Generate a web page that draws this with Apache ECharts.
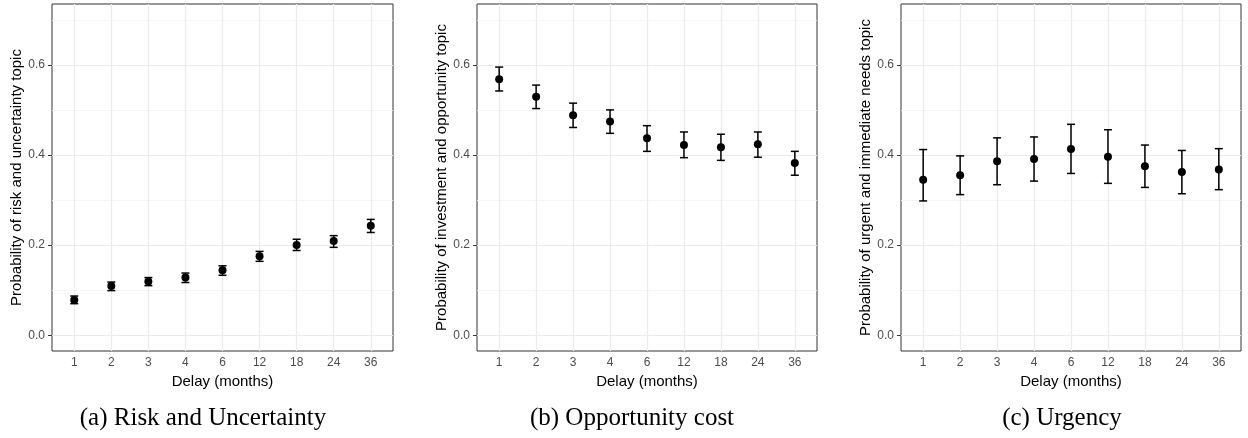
<!DOCTYPE html>
<html>
<head>
<meta charset="utf-8">
<script src="https://cdn.jsdelivr.net/npm/echarts@6/dist/echarts.min.js"></script>
<style>
html,body{margin:0;padding:0;background:#fff;}
#chart{width:1248px;height:438px;}
</style>
</head>
<body>
<div id="chart"></div>
<script>
// ---- data ----
const delays = ['1', '2', '3', '4', '6', '12', '18', '24', '36'];
const yTicks = [0, 0.2, 0.4, 0.6];
const yMinor = [0.1, 0.3, 0.5, 0.7];

const riskMean  = [0.078, 0.109, 0.119, 0.128, 0.144, 0.175, 0.200, 0.209, 0.243];
const riskLow   = [0.070, 0.099, 0.110, 0.117, 0.133, 0.164, 0.188, 0.195, 0.228];
const riskHigh  = [0.087, 0.118, 0.128, 0.138, 0.154, 0.186, 0.213, 0.221, 0.257];

const oppMean   = [0.568, 0.529, 0.488, 0.474, 0.437, 0.422, 0.417, 0.424, 0.382];
const oppLow    = [0.542, 0.503, 0.461, 0.448, 0.408, 0.394, 0.388, 0.395, 0.355];
const oppHigh   = [0.595, 0.555, 0.515, 0.500, 0.465, 0.451, 0.446, 0.451, 0.408];

const urgMean   = [0.345, 0.355, 0.386, 0.391, 0.413, 0.396, 0.375, 0.362, 0.368];
const urgLow    = [0.298, 0.312, 0.334, 0.342, 0.359, 0.337, 0.328, 0.314, 0.323];
const urgHigh   = [0.412, 0.398, 0.438, 0.440, 0.468, 0.456, 0.422, 0.410, 0.414];

const yTitles = [
  'Probability of risk and uncertainty topic',
  'Probability of investment and opportunity topic',
  'Probability of urgent and immediate needs topic'
];
const captions = ['(a) Risk and Uncertainty', '(b) Opportunity cost', '(c) Urgency'];

// ---- layout ----
const grids = [
  {left: 52, top: 4, width: 341, height: 347},
  {left: 477, top: 4, width: 340, height: 347},
  {left: 901, top: 4, width: 340, height: 347}
];
const captionX = [203, 632, 1062];
const panels = [
  [riskMean, riskLow, riskHigh],
  [oppMean, oppLow, oppHigh],
  [urgMean, urgLow, urgHigh]
];

const sans = 'Liberation Sans, Arial, sans-serif';
const option = {
  animation: false,
  backgroundColor: '#fff',
  grid: grids.map(g => Object.assign({show: true, borderColor: '#333333', borderWidth: 1, backgroundColor: 'transparent'}, g)),
  xAxis: grids.map((g, i) => ({
    gridIndex: i, type: 'value', min: 0.4, max: 9.6,
    name: 'Delay (months)', nameLocation: 'middle', nameGap: 21,
    nameTextStyle: {color: '#000', fontSize: 15, fontFamily: sans},
    axisLine: {show: false},
    axisTick: {show: true, length: 4, lineStyle: {color: '#333333', width: 1}, customValues: delays.map((d, k) => k + 1)},
    axisLabel: {color: '#4D4D4D', fontSize: 12, fontFamily: sans, margin: 6,
      customValues: delays.map((d, k) => k + 1),
      formatter: v => delays[Math.round(v) - 1]},
    splitLine: {show: false}
  })),
  yAxis: grids.map((g, i) => ({
    gridIndex: i, type: 'value', min: -0.035, max: 0.735,
    name: yTitles[i], nameLocation: 'middle', nameGap: 25,
    nameTextStyle: {color: '#000', fontSize: 15, fontFamily: sans},
    axisLine: {show: false},
    axisTick: {show: true, length: 4, lineStyle: {color: '#333333', width: 1}, customValues: yTicks},
    axisLabel: {color: '#4D4D4D', fontSize: 12, fontFamily: sans, margin: 7,
      customValues: yTicks, formatter: v => v.toFixed(1)},
    splitLine: {show: false}
  })),
  graphic: captions.map((c, i) => ({
    type: 'text', x: captionX[i], y: 418,
    style: {text: c, align: 'center', verticalAlign: 'middle', fill: '#000',
      font: '25px "Liberation Serif", "DejaVu Serif", serif'}
  })),
  series: []
};

panels.forEach((p, i) => {
  const [mean, low, high] = p;
  // gridlines
  option.series.push({
    type: 'line', xAxisIndex: i, yAxisIndex: i, data: [], z: 1, silent: true,
    markLine: {
      z: 1, silent: true, symbol: 'none', label: {show: false}, animation: false,
      data: [
        ...yMinor.map(v => ({yAxis: v, lineStyle: {color: '#F2F2F2', width: 0.8, type: 'solid'}})),
        ...yTicks.map(v => ({yAxis: v, lineStyle: {color: '#EBEBEB', width: 1.2, type: 'solid'}})),
        ...delays.map((d, k) => ({xAxis: k + 1, lineStyle: {color: '#EBEBEB', width: 1.2, type: 'solid'}}))
      ]
    }
  });
  // error bars
  option.series.push({
    type: 'custom', xAxisIndex: i, yAxisIndex: i, z: 3, silent: true,
    data: delays.map((d, k) => [k + 1, low[k], high[k]]),
    renderItem: (params, api) => {
      const x = api.value(0);
      const lo = api.coord([x, api.value(1)]);
      const hi = api.coord([x, api.value(2)]);
      const hw = 4;
      const st = {stroke: '#000', lineWidth: 1.5};
      return {type: 'group', children: [
        {type: 'line', shape: {x1: lo[0], y1: lo[1], x2: hi[0], y2: hi[1]}, style: st},
        {type: 'line', shape: {x1: lo[0] - hw, y1: lo[1], x2: lo[0] + hw, y2: lo[1]}, style: st},
        {type: 'line', shape: {x1: hi[0] - hw, y1: hi[1], x2: hi[0] + hw, y2: hi[1]}, style: st}
      ]};
    }
  });
  // points
  option.series.push({
    type: 'scatter', xAxisIndex: i, yAxisIndex: i, z: 4, silent: true,
    symbol: 'circle', symbolSize: 8,
    itemStyle: {color: '#000', opacity: 1},
    data: delays.map((d, k) => [k + 1, mean[k]])
  });
});

const chart = echarts.init(document.getElementById('chart'), null, {renderer: 'canvas'});
chart.setOption(option);
</script>
</body>
</html>
